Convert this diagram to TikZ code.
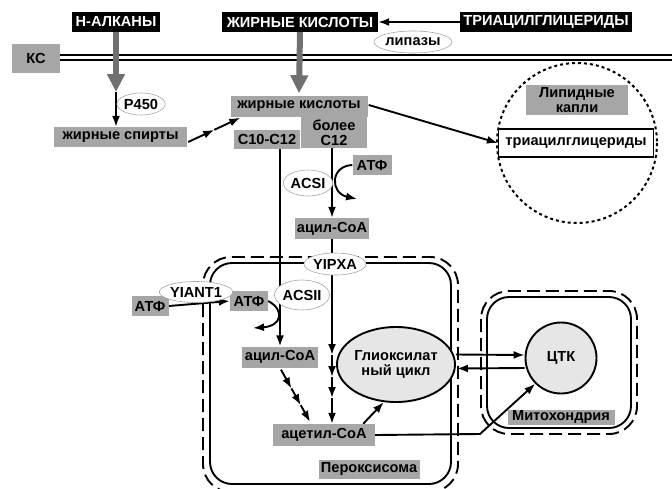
\documentclass[tikz,border=0pt]{standalone}
\usepackage{fontspec}
\setmainfont{Liberation Sans}
\usetikzlibrary{arrows.meta,shapes.geometric,calc}
\definecolor{boxgray}{HTML}{A6A6A6}
\definecolor{arrgray}{HTML}{707070}
\definecolor{cellgray}{HTML}{E6E6E6}
\pgfdeclarelayer{back}
\pgfdeclarelayer{mid}
\pgfsetlayers{back,mid,main}
\begin{document}
\begin{tikzpicture}[x=1pt,y=-1pt,
  font=\fontsize{14.6}{15.5}\selectfont\bfseries,
  blk/.style={fill=black,text=white,inner sep=0pt,minimum height=20pt},
  gbox/.style={fill=boxgray,inner sep=0pt},
  enz/.style={ellipse,draw=gray!70,line width=0.6pt,fill=white,inner sep=0pt},
  tip/.tip={Latex[length=11pt,width=8pt]},
  con/.style={line width=1.9pt,-tip},
  big/.style={line width=6pt,arrgray,-{Triangle[length=18pt,width=17pt]}},
  solidwall/.style={line width=1.9pt,rounded corners=22pt},
  dashwall/.style={line width=1.9pt,rounded corners=28pt,dash pattern=on 13pt off 6pt}
]
\useasboundingbox (0,0) rectangle (672,488);

% compartments
\begin{pgfonlayer}{back}
\draw[solidwall] (210,263) rectangle (451,484);
\draw[dashwall] (203,257) rectangle (458,492);
\draw[solidwall] (487,297) rectangle (631,428);
\draw[dashwall] (481,291) rectangle (637,434);
\draw[line width=2pt,dash pattern=on 3pt off 3pt] (577,143) circle (80);
\end{pgfonlayer}

% nodes
\node[blk,minimum width=88pt] (alk) at (116,22) {Н-АЛКАНЫ};
\node[blk,minimum width=156pt] (fa) at (300,22) {ЖИРНЫЕ КИСЛОТЫ};
\node[blk,minimum width=172pt] (tag) at (546,22) {ТРИАЦИЛГЛИЦЕРИДЫ};
\node[enz,minimum width=68pt,minimum height=22pt] (lip) at (413,42) {липазы};
\node[gbox,minimum width=48pt,minimum height=29pt] (ks) at (36,58.5) {КС};
\node[enz,minimum width=44pt,minimum height=22pt] (p450) at (141,104) {P450};
\node[gbox,minimum width=133pt,minimum height=20pt] (alc) at (120.5,137) {жирные спирты};
\node[gbox,minimum width=137pt,minimum height=21pt] (fa2) at (299,106) {жирные кислоты};
\node[gbox,minimum width=66pt,minimum height=19pt] (c1012) at (267,139) {C10-C12};
\node[gbox,minimum width=66pt,minimum height=31pt,align=center] (more) at (334,132.5) {более\\C12};
\node[gbox,minimum width=39pt,minimum height=20pt] (atp1) at (372,165) {АТФ};
\node[enz,minimum width=44pt,minimum height=26pt] (acsi) at (308,183) {ACSI};
\node[gbox,minimum width=74pt,minimum height=21pt] (acyl1) at (332,228.5) {ацил-CoA};
\node[enz,minimum width=57pt,minimum height=22pt] (yipxa) at (335,264) {YIPXA};
\node[gbox,minimum width=102pt,minimum height=30pt,align=center] (lk) at (577,100) {Липидные\\капли};
\node[draw,line width=1.2pt,fill=white,inner sep=0pt,minimum width=155pt,minimum height=28pt] (tag2) at (576,143) {триацилглицериды};
\node[ellipse,draw,fill=cellgray,line width=1.9pt,inner sep=0pt,minimum width=96pt,minimum height=75pt,align=center] (gly) at (396,364.5) {Глиоксилат\\ный цикл};
\node[circle,draw,fill=cellgray,line width=1.9pt,inner sep=0pt,minimum size=71pt] (tca) at (561,358) {ЦТК};
\node[gbox,minimum width=107pt,minimum height=15pt] (mito) at (561,417) {Митохондрия};
\node[gbox,minimum width=101pt,minimum height=19pt] (perox) at (369,469) {Пероксисома};
\node[gbox,minimum width=102pt,minimum height=22pt] (acet) at (324,435) {ацетил-CoA};
\node[gbox,minimum width=76pt,minimum height=21pt] (acyl2) at (280,357) {ацил-CoA};
\node[enz,minimum width=38pt,minimum height=30pt] (acsii) at (302,295) {ACSII};
\node[gbox,minimum width=38pt,minimum height=20pt] (atp2) at (249,301) {АТФ};
\node[gbox,minimum width=37pt,minimum height=20pt] (atp3) at (150,306) {АТФ};
\node[enz,minimum width=54pt,minimum height=21pt] (yiant) at (196,292) {YIANT1};

\coordinate (mR1) at (672,54.5);
\coordinate (mR2) at (672,59.5);
\coordinate (a1) at (116,92);
\coordinate (e1) at (357,199);
\coordinate (e2) at (253,328);
\coordinate (kink) at (480,434);
% spirits -> fatty acids
\coordinate (s0) at ($(alc.east)+(1,5)$);
\coordinate (s2) at ($(fa2.south west)+(10,1)$);
\coordinate (s1) at ($(s0)!0.5!(s2)$);
% long chain vertical
\coordinate (v0) at (acyl1.south);
\coordinate (v4) at (acyl1.south |- acet.north);
\coordinate (v1) at (v0 |- 0,355);
\coordinate (v2) at (v0 |- 0,377);
\coordinate (v3) at (v0 |- 0,398);
% short chain diagonal
\coordinate (d0) at ($(acyl2.south)+(1,2)$);
\coordinate (d3) at ($(acet.north)+(-14,-2)$);
\coordinate (d1) at ($(d0)!0.36!(d3)$);
\coordinate (d2) at ($(d0)!0.68!(d3)$);

% connectors
\begin{pgfonlayer}{mid}
\draw[line width=2pt] (ks.east |- mR1) -- (mR1);
\draw[line width=2pt] (ks.east |- mR2) -- (mR2);
\draw[big] (alk.south) -- (a1);
\draw[big] (fa.south) -- ([yshift=2pt]fa2.north);
\draw[con] (tag.west) -- (fa.east);
\draw[con] (a1) -- (a1 |- alc.north);
\draw[con] (s0) -- (s1);
\draw[con] (s1) -- (s2);
\draw[con] ($(fa2.east)+(1,-1)$) -- (tag2.west);
\draw[con] (acyl2.north |- c1012.south) -- (acyl2.north);
\draw[con] (acyl1.north |- more.south) -- (acyl1.north);
\draw[con] (atp1.west) .. controls (330,166) and (330,193) .. (e1);
\draw[con] (v0) -- (v1);
\draw[con] (v1) -- (v2);
\draw[con] (v2) -- (v3);
\draw[con] (v3) -- (v4);
\draw[con] (d0) -- (d1);
\draw[con] (d1) -- (d2);
\draw[con] (d2) -- (d3);
\draw[con] (atp3.east) -- (atp2.west);
\draw[con] (atp2.east) .. controls (285,310) and (282,326) .. (e2);
\draw[con] ($(acet.north east)+(-12,0)$) -- (gly.-108);
\draw[con] (acet.east) -- (kink) -- (tca.south west);
\draw[con] ($(gly.east)+(0,-10)$) -- ($(tca.west)+(0,-3)$);
\draw[con] ($(tca.west)+(0,10)$) -- ($(gly.east)+(1,4)$);
\end{pgfonlayer}
\end{tikzpicture}
\end{document}
